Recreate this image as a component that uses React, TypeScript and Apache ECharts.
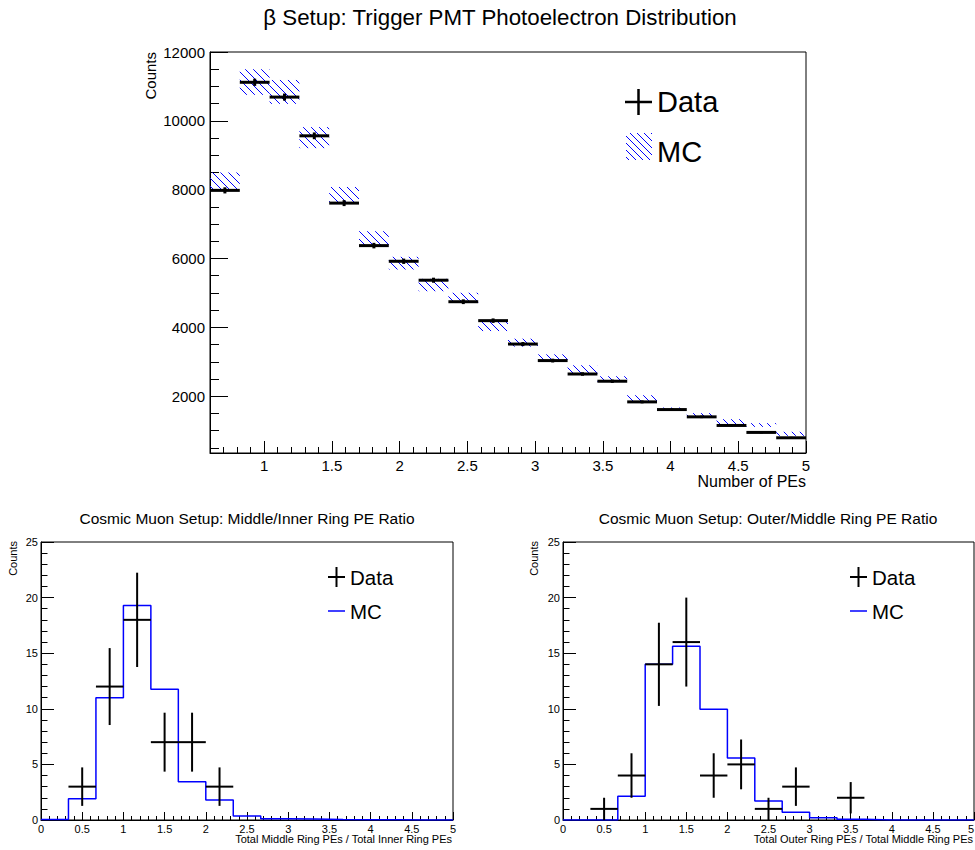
import React, { useEffect, useRef } from "react";
import * as echarts from "echarts";

const FONT = "'Liberation Sans', Arial, Helvetica, sans-serif";

// ---------- Top panel: beta setup ----------
const topBinEdges = [0.6, 0.82, 1.04, 1.26, 1.48, 1.7, 1.92, 2.14, 2.36, 2.58, 2.8, 3.02, 3.24, 3.46, 3.68, 3.9, 4.12, 4.34, 4.56, 4.78, 5.0];
const topData = [7980, 11120, 10690, 9565, 7610, 6375, 5920, 5370, 4745, 4195, 3515, 3035, 2645, 2435, 1835, 1612, 1400, 1150, 948, 792];
const topDataErr = [89, 105, 103, 98, 87, 80, 77, 73, 69, 65, 59, 55, 51, 49, 43, 40, 37, 34, 31, 28];
const topMC = [8240, 11127, 10840, 9512, 7836, 6585, 5865, 5230, 4860, 4043, 3556, 3115, 2763, 2497, 1922, 1623, 1445, 1236, 1163, 908];
const topMCErr = [260, 372, 347, 305, 242, 208, 184, 180, 145, 150, 115, 100, 135, 83, 106, 48, 63, 96, 54, 58];
const topXTicks = [1, 1.5, 2, 2.5, 3, 3.5, 4, 4.5, 5];
const topYTicks = [2000, 4000, 6000, 8000, 10000, 12000];

// ---------- Bottom panels: cosmic muon ratios ----------
const ratioBinEdges = [0, 0.3333, 0.6667, 1, 1.3333, 1.6667, 2, 2.3333, 2.6667, 3, 3.3333, 3.6667, 4, 4.3333, 4.6667, 5];
const leftMC = [0.05, 1.9, 11.0, 19.3, 11.75, 3.45, 1.8, 0.36, 0.12, 0.1, 0.04, 0.02, 0.02, 0.01, 0.01];
const leftDataBins = [1, 2, 3, 4, 5, 6];
const leftData = [3, 12, 18, 7, 7, 3];
const leftDataErr = [1.73, 3.46, 4.24, 2.65, 2.65, 1.73];

const rightMC = [0, 0, 2.13, 14.0, 15.63, 9.97, 5.57, 1.71, 0.69, 0.21, 0.06, 0, 0, 0, 0];
const rightDataBins = [1, 2, 3, 4, 5, 6, 7, 8, 10];
const rightData = [1, 4, 14, 16, 4, 5, 1, 3, 2];
const rightDataErr = [1, 2, 3.74, 4, 2, 2.24, 1, 1.73, 1.41];

function hatchLines(x0: number, y0: number, x1: number, y1: number, s: number) {
  const out: number[][] = [];
  const cStart = Math.ceil((y0 - x1) / s) * s;
  for (let c = cStart; c <= y1 - x0; c += s) {
    const xa = Math.max(x0, y0 - c);
    const xb = Math.min(x1, y1 - c);
    if (xb > xa) out.push([xa, xa + c, xb, xb + c]);
  }
  return out;
}

function lineEl(x1: number, y1: number, x2: number, y2: number, stroke: string, w: number) {
  return { type: "line", shape: { x1, y1, x2, y2 }, style: { stroke, lineWidth: w } };
}

function textEl(text: string, x: number, y: number, size: number, align: string, extra: any = {}) {
  return {
    type: "text",
    x,
    y,
    ...extra,
    style: {
      text,
      fill: "#000",
      fontSize: size,
      fontFamily: FONT,
      align,
      textAlign: align,
      verticalAlign: "middle",
      textVerticalAlign: "middle",
    },
  };
}

function stepPoints(edges: number[], vals: number[]) {
  const pts: number[][] = [];
  vals.forEach((v, i) => {
    pts.push([edges[i], v]);
    pts.push([edges[i + 1], v]);
  });
  return pts;
}

function dataRenderer(hw: number, vw: number) {
  return (params: any, api: any) => {
    const lo = api.value(0);
    const hi = api.value(1);
    const y = api.value(2);
    const e = api.value(3);
    const c = (lo + hi) / 2;
    const a = api.coord([lo, y]);
    const b = api.coord([hi, y]);
    const t = api.coord([c, y + e]);
    const u = api.coord([c, y - e]);
    return {
      type: "group",
      children: [
        lineEl(a[0], a[1], b[0], b[1], "#000", hw),
        lineEl(t[0], t[1], u[0], u[1], "#000", vw),
      ],
    };
  };
}

function hatchRenderer(params: any, api: any) {
  const lo = api.value(0);
  const hi = api.value(1);
  const vlo = api.value(2);
  const vhi = api.value(3);
  const p0 = api.coord([lo, vhi]);
  const p1 = api.coord([hi, vlo]);
  const segs = hatchLines(p0[0], p0[1], p1[0], p1[1], 8);
  return {
    type: "group",
    children: segs.map((s) => lineEl(s[0], s[1], s[2], s[3], "#0000ff", 1)),
  };
}

const axisLineStyle = { show: true, onZero: false, lineStyle: { color: "#000", width: 1 } };

function bottomX(grid: number, alignMax: string | undefined) {
  return {
    type: "value",
    gridIndex: grid,
    min: 0,
    max: 5,
    interval: 0.5,
    position: "bottom",
    axisLine: axisLineStyle,
    axisTick: { show: true, inside: true, length: 8, lineStyle: { color: "#000" } },
    minorTick: { show: true, splitNumber: 5, length: 4, lineStyle: { color: "#000" } },
    axisLabel: {
      show: true,
      margin: 3,
      color: "#000",
      fontSize: 11,
      fontFamily: FONT,
      showMinLabel: true,
      showMaxLabel: true,
      alignMaxLabel: alignMax,
      formatter: (v: number) => String(v),
    },
    splitLine: { show: false },
  };
}

function bottomY(grid: number) {
  return {
    type: "value",
    gridIndex: grid,
    min: 0,
    max: 25,
    interval: 5,
    position: "left",
    axisLine: axisLineStyle,
    axisTick: { show: true, inside: true, length: 13, lineStyle: { color: "#000" } },
    minorTick: { show: true, splitNumber: 5, length: 6.5, lineStyle: { color: "#000" } },
    axisLabel: { show: true, margin: 3, color: "#000", fontSize: 11, fontFamily: FONT, showMinLabel: true, showMaxLabel: true },
    splitLine: { show: false },
  };
}

function buildOption() {
  const topXMinor: number[] = [];
  for (let k = 7; k <= 49; k++) if (k % 5 !== 0) topXMinor.push(k / 10);
  const topYMinor: number[] = [];
  for (let v = 500; v <= 11500; v += 500) if (v % 2000 !== 0) topYMinor.push(v);

  const gridBase = { show: true, borderColor: "#000", borderWidth: 1, backgroundColor: "transparent", containLabel: false, outerBoundsMode: "none" };

  const legendHatch = hatchLines(626, 133, 652, 160, 7).map((s) => lineEl(s[0], s[1], s[2], s[3], "#0000ff", 1));

  return {
    animation: false,
    backgroundColor: "#fff",
    grid: [
      { ...gridBase, left: 210, top: 52, width: 596, height: 401 },
      { ...gridBase, left: 41, top: 542, width: 412, height: 278 },
      { ...gridBase, left: 563, top: 542, width: 411, height: 278 },
    ],
    xAxis: [
      {
        type: "value",
        gridIndex: 0,
        min: 0.6,
        max: 5,
        position: "bottom",
        axisLine: axisLineStyle,
        axisTick: { show: true, inside: true, length: 12, customValues: topXTicks, lineStyle: { color: "#000" } },
        axisLabel: { show: true, customValues: topXTicks, margin: 5, color: "#000", fontSize: 15, fontFamily: FONT, showMaxLabel: true, formatter: (v: number) => String(v) },
        splitLine: { show: false },
      },
      {
        type: "value",
        gridIndex: 0,
        min: 0.6,
        max: 5,
        position: "bottom",
        axisLine: { show: false },
        axisTick: { show: true, inside: true, length: 6, customValues: topXMinor, lineStyle: { color: "#000" } },
        axisLabel: { show: false },
        splitLine: { show: false },
      },
      bottomX(1, undefined),
      bottomX(2, "right"),
    ],
    yAxis: [
      {
        type: "value",
        gridIndex: 0,
        min: 350,
        max: 12000,
        position: "left",
        axisLine: axisLineStyle,
        axisTick: { show: true, inside: true, length: 18, customValues: topYTicks, lineStyle: { color: "#000" } },
        axisLabel: { show: true, customValues: topYTicks, margin: 5, color: "#000", fontSize: 15, fontFamily: FONT, showMaxLabel: true, formatter: (v: number) => String(v) },
        splitLine: { show: false },
      },
      {
        type: "value",
        gridIndex: 0,
        min: 350,
        max: 12000,
        position: "left",
        axisLine: { show: false },
        axisTick: { show: true, inside: true, length: 9, customValues: topYMinor, lineStyle: { color: "#000" } },
        axisLabel: { show: false },
        splitLine: { show: false },
      },
      bottomY(1),
      bottomY(2),
    ],
    series: [
      {
        type: "custom",
        name: "MC",
        xAxisIndex: 0,
        yAxisIndex: 0,
        silent: true,
        encode: { x: [0, 1], y: [2, 3] },
        data: topMC.map((v, i) => [topBinEdges[i], topBinEdges[i + 1], v - topMCErr[i], v + topMCErr[i]]),
        renderItem: hatchRenderer,
        z: 2,
      },
      {
        type: "custom",
        name: "Data",
        xAxisIndex: 0,
        yAxisIndex: 0,
        silent: true,
        encode: { x: [0, 1], y: 2 },
        data: topData.map((v, i) => [topBinEdges[i], topBinEdges[i + 1], v, topDataErr[i]]),
        renderItem: dataRenderer(3, 3),
        z: 3,
      },
      {
        type: "line",
        name: "MC left",
        xAxisIndex: 2,
        yAxisIndex: 2,
        silent: true,
        showSymbol: false,
        symbol: "none",
        data: stepPoints(ratioBinEdges, leftMC),
        lineStyle: { color: "#0000ff", width: 1.5 },
        z: 2,
      },
      {
        type: "custom",
        name: "Data left",
        xAxisIndex: 2,
        yAxisIndex: 2,
        silent: true,
        encode: { x: [0, 1], y: 2 },
        data: leftData.map((v, i) => [ratioBinEdges[leftDataBins[i]], ratioBinEdges[leftDataBins[i] + 1], v, leftDataErr[i]]),
        renderItem: dataRenderer(2, 2),
        z: 3,
      },
      {
        type: "line",
        name: "MC right",
        xAxisIndex: 3,
        yAxisIndex: 3,
        silent: true,
        showSymbol: false,
        symbol: "none",
        data: stepPoints(ratioBinEdges, rightMC),
        lineStyle: { color: "#0000ff", width: 1.5 },
        z: 2,
      },
      {
        type: "custom",
        name: "Data right",
        xAxisIndex: 3,
        yAxisIndex: 3,
        silent: true,
        encode: { x: [0, 1], y: 2 },
        data: rightData.map((v, i) => [ratioBinEdges[rightDataBins[i]], ratioBinEdges[rightDataBins[i] + 1], v, rightDataErr[i]]),
        renderItem: dataRenderer(2, 2),
        z: 3,
      },
    ],
    graphic: [
      // titles
      textEl("\u03b2 Setup: Trigger PMT Photoelectron Distribution", 500, 17, 22.3, "center"),
      textEl("Cosmic Muon Setup: Middle/Inner Ring PE Ratio", 247, 518, 15.5, "center"),
      textEl("Cosmic Muon Setup: Outer/Middle Ring PE Ratio", 768, 518, 15.5, "center"),
      // axis titles
      textEl("Counts", 150, 52, 15, "right", { rotation: Math.PI / 2 }),
      textEl("Number of PEs", 806, 481, 16, "right"),
      textEl("Counts", 13, 541, 11, "right", { rotation: Math.PI / 2 }),
      textEl("Total Middle Ring PEs / Total Inner Ring PEs", 452, 839, 11, "right"),
      textEl("Counts", 534, 541, 11, "right", { rotation: Math.PI / 2 }),
      textEl("Total Outer Ring PEs / Total Middle Ring PEs", 973, 839, 11, "right"),
      // top legend
      lineEl(625, 102, 652, 102, "#000", 2.5),
      lineEl(638.5, 89, 638.5, 115, "#000", 2.5),
      textEl("Data", 657, 102, 29, "left"),
      { type: "group", children: legendHatch },
      textEl("MC", 657, 152, 29, "left"),
      // bottom-left legend
      lineEl(328, 577, 345, 577, "#000", 2),
      lineEl(336.5, 567, 336.5, 587, "#000", 2),
      textEl("Data", 350, 577, 20.5, "left"),
      lineEl(328, 611, 345, 611, "#0000ff", 1.5),
      textEl("MC", 350, 611, 20.5, "left"),
      // bottom-right legend
      lineEl(850, 577, 867, 577, "#000", 2),
      lineEl(858.5, 567, 858.5, 587, "#000", 2),
      textEl("Data", 872, 577, 20.5, "left"),
      lineEl(850, 611, 867, 611, "#0000ff", 1.5),
      textEl("MC", 872, 611, 20.5, "left"),
    ],
  };
}

export default function App() {
  const ref = useRef<HTMLDivElement>(null);
  useEffect(() => {
    if (!ref.current) return;
    const chart = echarts.init(ref.current, null, { renderer: "svg" });
    chart.setOption(buildOption() as any);
    return () => chart.dispose();
  }, []);
  return (
    <div
      ref={ref}
      style={{ position: "absolute", left: 0, top: 0, width: 975, height: 850, background: "#fff" }}
    />
  );
}
